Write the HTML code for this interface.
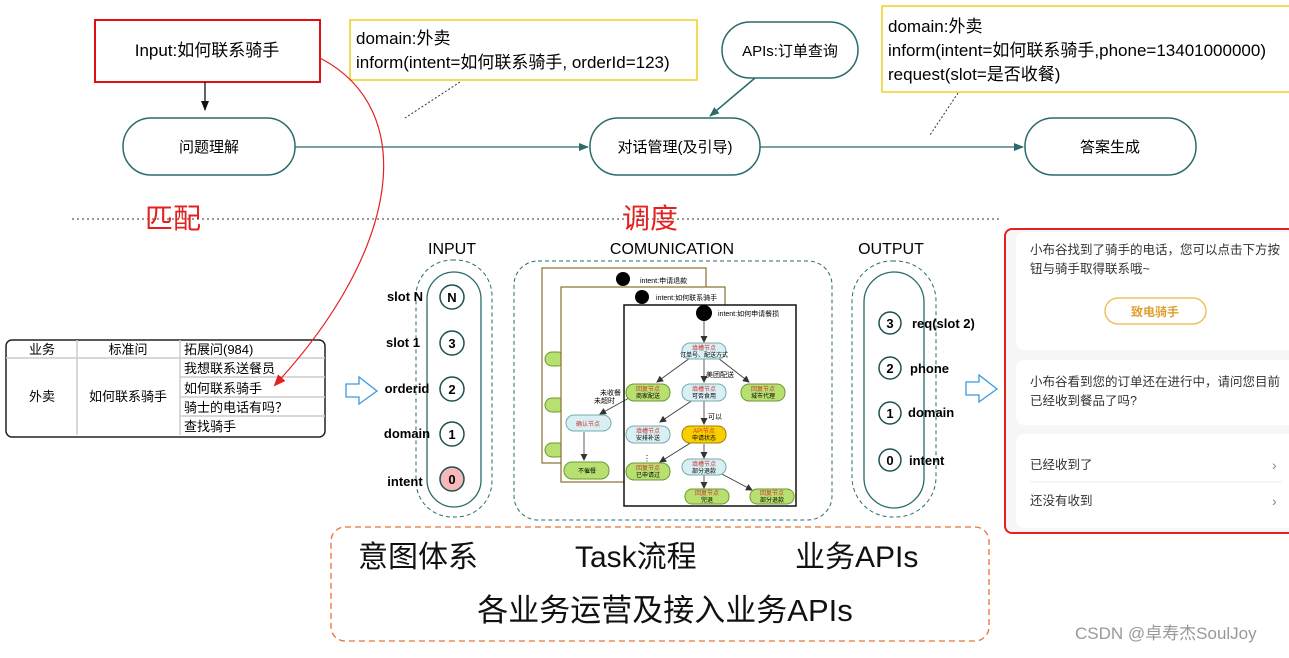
<!DOCTYPE html>
<html><head><meta charset="utf-8"><style>
body{margin:0;background:#fff;width:1289px;height:653px;overflow:hidden;font-family:"Liberation Sans","Noto Sans CJK SC",sans-serif}
svg text{font-family:"Liberation Sans","Noto Sans CJK SC",sans-serif}
</style></head><body>
<svg width="1289" height="653" viewBox="0 0 1289 653" xmlns="http://www.w3.org/2000/svg">
<defs>
<marker id="ab" markerWidth="10" markerHeight="10" refX="9" refY="5" orient="auto" markerUnits="userSpaceOnUse"><path d="M0,1 L10,5 L0,9 z" fill="#111"/></marker>
<marker id="at" markerWidth="10" markerHeight="10" refX="9" refY="5" orient="auto" markerUnits="userSpaceOnUse"><path d="M0,1 L10,5 L0,9 z" fill="#2a6b6b"/></marker>
<marker id="ar" markerWidth="12" markerHeight="12" refX="10" refY="6" orient="auto" markerUnits="userSpaceOnUse"><path d="M0,1 L12,6 L0,11 z" fill="#e52020"/></marker>
<marker id="as" markerWidth="7" markerHeight="7" refX="6" refY="3.5" orient="auto" markerUnits="userSpaceOnUse"><path d="M0,0 L7,3.5 L0,7 z" fill="#333"/></marker>
</defs>
<!-- top row -->
<rect x="95" y="20" width="225" height="62" fill="#fff" stroke="#e01010" stroke-width="2"/>
<text x="207" y="56" font-size="17" text-anchor="middle">Input:如何联系骑手</text>
<line x1="205" y1="82" x2="205" y2="110" stroke="#111" stroke-width="1.3" marker-end="url(#ab)"/>
<rect x="350" y="20" width="347" height="60" fill="#fff" stroke="#f0d020" stroke-width="1.5"/>
<text x="356" y="44" font-size="17">domain:外卖</text>
<text x="356" y="68" font-size="17">inform(intent=如何联系骑手, orderId=123)</text>
<rect x="722" y="22" width="136" height="56" rx="28" fill="#fff" stroke="#2a6b6b" stroke-width="1.5"/>
<text x="790" y="56" font-size="15" text-anchor="middle">APIs:订单查询</text>
<rect x="882" y="6" width="420" height="86" fill="#fff" stroke="#f0d020" stroke-width="1.5"/>
<text x="888" y="32" font-size="17">domain:外卖</text>
<text x="888" y="56" font-size="17">inform(intent=如何联系骑手,phone=13401000000)</text>
<text x="888" y="80" font-size="17">request(slot=是否收餐)</text>
<line x1="460" y1="82" x2="405" y2="118" stroke="#333" stroke-dasharray="2,2"/>
<line x1="958" y1="93" x2="930" y2="135" stroke="#333" stroke-dasharray="2,2"/>
<line x1="755" y1="78" x2="710" y2="116" stroke="#2a6b6b" stroke-width="1.5" marker-end="url(#at)"/>
<rect x="123" y="118" width="172" height="57" rx="28" fill="#fff" stroke="#2a6b6b" stroke-width="1.5"/>
<text x="209" y="152" font-size="15" text-anchor="middle">问题理解</text>
<rect x="590" y="118" width="170" height="57" rx="28" fill="#fff" stroke="#2a6b6b" stroke-width="1.5"/>
<text x="675" y="152" font-size="15" text-anchor="middle">对话管理(及引导)</text>
<rect x="1025" y="118" width="171" height="57" rx="28" fill="#fff" stroke="#2a6b6b" stroke-width="1.5"/>
<text x="1110" y="152" font-size="15" text-anchor="middle">答案生成</text>
<line x1="295" y1="147" x2="588" y2="147" stroke="#2a6b6b" stroke-width="1.3" marker-end="url(#at)"/>
<line x1="760" y1="147" x2="1023" y2="147" stroke="#2a6b6b" stroke-width="1.3" marker-end="url(#at)"/>
<line x1="72" y1="219" x2="1000" y2="219" stroke="#333" stroke-dasharray="2,3"/>
<text x="145" y="228" font-size="28" fill="#e52020">匹配</text>
<text x="622" y="228" font-size="28" fill="#e52020">调度</text>
<!-- table -->
<rect x="6" y="340" width="319" height="97" rx="6" fill="#fff" stroke="#222" stroke-width="1.5"/>
<g stroke="#ccc" stroke-width="1.5">
<line x1="6" y1="358" x2="325" y2="358"/><line x1="180" y1="377" x2="325" y2="377"/><line x1="180" y1="397" x2="325" y2="397"/><line x1="180" y1="416" x2="325" y2="416"/>
<line x1="77" y1="340" x2="77" y2="435"/><line x1="180" y1="340" x2="180" y2="435"/></g>
<g font-size="13"><text x="42" y="354" text-anchor="middle">业务</text><text x="128" y="354" text-anchor="middle">标准问</text><text x="184" y="354">拓展问(984)</text>
<text x="42" y="401" text-anchor="middle">外卖</text><text x="128" y="401" text-anchor="middle">如何联系骑手</text>
<text x="184" y="373">我想联系送餐员</text><text x="184" y="393">如何联系骑手</text><text x="184" y="412">骑士的电话有吗？</text><text x="184" y="431">查找骑手</text></g>
<path d="M320,58 C420,110 400,250 275,385" fill="none" stroke="#e52020" stroke-width="1.2" marker-end="url(#ar)"/>
<path d="M346,384 L359,384 L359,377 L377,391 L359,404 L359,397 L346,397 z" fill="#fff" stroke="#3a9ae0" stroke-width="1.3"/>
<path d="M966,382 L979,382 L979,375 L997,389 L979,402 L979,395 L966,395 z" fill="#fff" stroke="#3a9ae0" stroke-width="1.3"/>
<!-- INPUT -->
<text x="452" y="254" font-size="16" text-anchor="middle">INPUT</text>
<rect x="416" y="260" width="76" height="257" rx="36" fill="none" stroke="#2a6b6b" stroke-dasharray="4,3"/>
<rect x="427" y="272" width="54" height="235" rx="27" fill="none" stroke="#2a6b6b" stroke-width="1.3"/>
<g font-size="13" font-weight="bold" text-anchor="middle">
<circle cx="452" cy="297" r="12" fill="#fff" stroke="#1f5050" stroke-width="1.5"/><text x="452" y="302">N</text>
<circle cx="452" cy="343" r="12" fill="#fff" stroke="#1f5050" stroke-width="1.5"/><text x="452" y="348">3</text>
<circle cx="452" cy="389" r="12" fill="#fff" stroke="#1f5050" stroke-width="1.5"/><text x="452" y="394">2</text>
<circle cx="452" cy="434" r="12" fill="#fff" stroke="#1f5050" stroke-width="1.5"/><text x="452" y="439">1</text>
<circle cx="452" cy="479" r="12" fill="#f6b8b8" stroke="#1f5050" stroke-width="1.5"/><text x="452" y="484">0</text>
<text x="405" y="301">slot N</text><text x="403" y="347">slot 1</text><text x="407" y="393">orderid</text><text x="407" y="438">domain</text><text x="405" y="486">intent</text></g>
<!-- COMUNICATION -->
<text x="672" y="254" font-size="16" text-anchor="middle">COMUNICATION</text>
<rect x="514" y="261" width="318" height="259" rx="24" fill="none" stroke="#2a6b6b" stroke-dasharray="4,3"/>
<rect x="542" y="268" width="164" height="195" fill="#fff" stroke="#8a7030" stroke-width="1.2"/>
<circle cx="623" cy="279" r="7" fill="#000"/><text x="640" y="283" font-size="7">intent:申请退款</text>
<rect x="545" y="352" width="20" height="14" rx="7" fill="#b8e070" stroke="#6a9a30"/><rect x="545" y="398" width="20" height="14" rx="7" fill="#b8e070" stroke="#6a9a30"/><rect x="545" y="443" width="20" height="14" rx="7" fill="#b8e070" stroke="#6a9a30"/>
<rect x="561" y="287" width="164" height="195" fill="#fff" stroke="#8a7030" stroke-width="1.2"/>
<circle cx="642" cy="297" r="7" fill="#000"/><text x="656" y="300" font-size="7">intent:如何联系骑手</text>
<rect x="566" y="415" width="45" height="16" rx="8" fill="#d8f0f4" stroke="#7aa"/><text x="588" y="426" font-size="6" text-anchor="middle" fill="#c33">确认节点</text>
<rect x="564" y="462" width="45" height="17" rx="8" fill="#b8e070" stroke="#6a9a30"/><text x="587" y="473" font-size="6" text-anchor="middle">不催餐</text>
<text x="600" y="395" font-size="7">未收餐</text><text x="594" y="403" font-size="7">未超时</text>
<rect x="624" y="305" width="172" height="201" fill="#fff" stroke="#111" stroke-width="1.5"/>
<circle cx="704" cy="313" r="8" fill="#000"/><text x="718" y="316" font-size="7">intent:如何申请餐损</text>
<g stroke="#333" stroke-width="0.8" fill="none">
<line x1="704" y1="321" x2="704" y2="342" marker-end="url(#as)"/>
<line x1="690" y1="358" x2="657" y2="382" marker-end="url(#as)"/>
<line x1="704" y1="359" x2="704" y2="382" marker-end="url(#as)"/>
<line x1="718" y1="358" x2="749" y2="382" marker-end="url(#as)"/>
<line x1="693" y1="400" x2="660" y2="422" marker-end="url(#as)"/>
<line x1="704" y1="401" x2="704" y2="424" marker-end="url(#as)"/>
<line x1="704" y1="444" x2="704" y2="458" marker-end="url(#as)"/>
<line x1="692" y1="442" x2="660" y2="462" marker-end="url(#as)"/>
<line x1="704" y1="474" x2="704" y2="488" marker-end="url(#as)"/>
<line x1="718" y1="472" x2="752" y2="490" marker-end="url(#as)"/>
<line x1="584" y1="432" x2="584" y2="460" marker-end="url(#as)"/>
<line x1="640" y1="392" x2="600" y2="414" marker-end="url(#as)"/>
</g>
<g font-size="6" text-anchor="middle">
<rect x="682" y="343" width="44" height="16" rx="8" fill="#d8f0f4" stroke="#7aa"/><text x="704" y="350" fill="#c33">填槽节点</text><text x="704" y="357">订单号、配送方式</text>
<rect x="626" y="384" width="44" height="17" rx="8" fill="#b8e070" stroke="#6a9a30"/><text x="648" y="391" fill="#c33">回复节点</text><text x="648" y="398">商家配送</text>
<rect x="682" y="384" width="44" height="17" rx="8" fill="#d8f0f4" stroke="#7aa"/><text x="704" y="391" fill="#c33">填槽节点</text><text x="704" y="398">可否食用</text>
<rect x="741" y="384" width="44" height="17" rx="8" fill="#b8e070" stroke="#6a9a30"/><text x="763" y="391" fill="#c33">回复节点</text><text x="763" y="398">城市代理</text>
<rect x="626" y="426" width="44" height="17" rx="8" fill="#d8f0f4" stroke="#7aa"/><text x="648" y="433" fill="#c33">填槽节点</text><text x="648" y="440">安排补送</text>
<rect x="682" y="426" width="44" height="17" rx="8" fill="#f8d000" stroke="#a08000"/><text x="704" y="433" fill="#c33">API节点</text><text x="704" y="440">申请状态</text>
<rect x="682" y="459" width="44" height="16" rx="8" fill="#d8f0f4" stroke="#7aa"/><text x="704" y="466" fill="#c33">填槽节点</text><text x="704" y="473">部分退款</text>
<rect x="626" y="463" width="44" height="17" rx="8" fill="#b8e070" stroke="#6a9a30"/><text x="648" y="470" fill="#c33">回复节点</text><text x="648" y="477">已申请过</text>
<rect x="685" y="489" width="44" height="15" rx="7" fill="#b8e070" stroke="#6a9a30"/><text x="707" y="495" fill="#c33">回复节点</text><text x="707" y="502">完退</text>
<rect x="750" y="489" width="44" height="15" rx="7" fill="#b8e070" stroke="#6a9a30"/><text x="772" y="495" fill="#c33">回复节点</text><text x="772" y="502">部分退款</text>
</g>
<text x="706" y="377" font-size="7">美团配送</text><text x="708" y="419" font-size="7">可以</text><text x="643" y="461" font-size="8">⋮</text>
<!-- OUTPUT -->
<text x="891" y="254" font-size="16" text-anchor="middle">OUTPUT</text>
<rect x="852" y="261" width="84" height="256" rx="40" fill="none" stroke="#2a6b6b" stroke-dasharray="4,3"/>
<rect x="864" y="272" width="60" height="236" rx="30" fill="none" stroke="#2a6b6b" stroke-width="1.3"/>
<g font-size="13" font-weight="bold">
<circle cx="890" cy="323" r="11" fill="#fff" stroke="#1f5050" stroke-width="1.5"/><text x="890" y="328" text-anchor="middle">3</text><text x="912" y="328">req(slot 2)</text>
<circle cx="890" cy="368" r="11" fill="#fff" stroke="#1f5050" stroke-width="1.5"/><text x="890" y="373" text-anchor="middle">2</text><text x="910" y="373">phone</text>
<circle cx="890" cy="413" r="11" fill="#fff" stroke="#1f5050" stroke-width="1.5"/><text x="890" y="418" text-anchor="middle">1</text><text x="908" y="417">domain</text>
<circle cx="890" cy="460" r="11" fill="#fff" stroke="#1f5050" stroke-width="1.5"/><text x="890" y="465" text-anchor="middle">0</text><text x="909" y="465">intent</text></g>
<!-- right phone -->
<rect x="1005" y="229" width="290" height="304" rx="7" fill="#f6f6f6" stroke="#e52020" stroke-width="2"/>
<rect x="1016" y="232" width="280" height="118" rx="8" fill="#fff"/>
<rect x="1016" y="360" width="280" height="65" rx="8" fill="#fff"/>
<rect x="1016" y="434" width="280" height="94" rx="8" fill="#fff"/>
<g font-size="12.5" fill="#333">
<text x="1030" y="254">小布谷找到了骑手的电话，您可以点击下方按</text><text x="1030" y="273">钮与骑手取得联系哦~</text>
<text x="1030" y="386">小布谷看到您的订单还在进行中，请问您目前</text><text x="1030" y="405">已经收到餐品了吗?</text>
<text x="1030" y="469">已经收到了</text><text x="1030" y="505">还没有收到</text></g>
<rect x="1105" y="298" width="101" height="26" rx="13" fill="#fff" stroke="#f0c060" stroke-width="1.5"/>
<text x="1155" y="316" font-size="12" fill="#e0a030" text-anchor="middle" font-weight="bold">致电骑手</text>
<line x1="1030" y1="482" x2="1282" y2="482" stroke="#eee"/>
<text x="1272" y="470" font-size="14" fill="#888">›</text><text x="1272" y="506" font-size="14" fill="#888">›</text>
<!-- bottom -->
<rect x="331" y="527" width="658" height="114" rx="14" fill="none" stroke="#e87030" stroke-width="1.3" stroke-dasharray="6,4"/>
<g font-size="30" fill="#111"><text x="358" y="567">意图体系</text><text x="575" y="567">Task流程</text><text x="795" y="567">业务APIs</text>
<text x="665" y="621" font-size="31" text-anchor="middle">各业务运营及接入业务APIs</text></g>
<text x="1075" y="639" font-size="17" fill="#999">CSDN @卓寿杰SoulJoy</text>
</svg>
</body></html>
